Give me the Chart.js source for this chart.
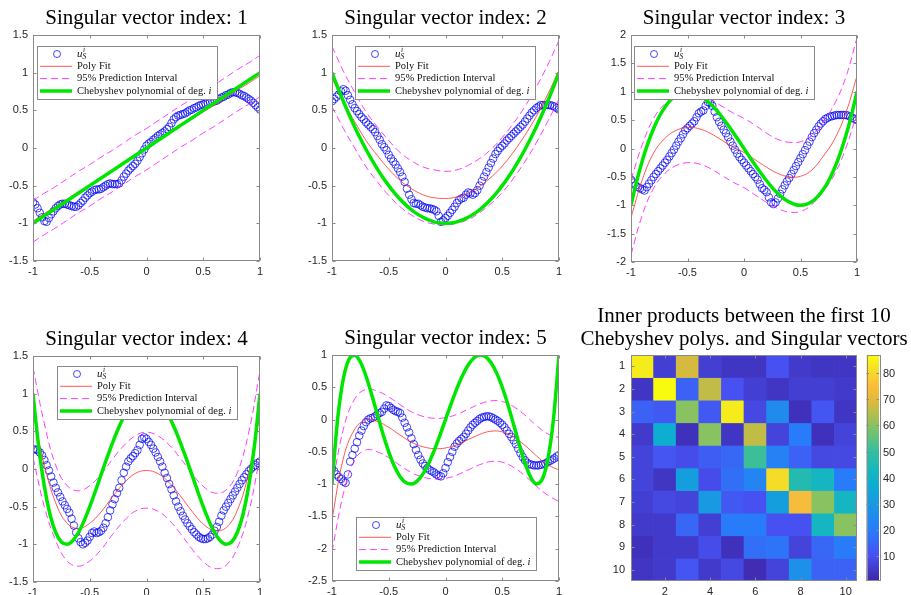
<!DOCTYPE html>
<html>
<head>
<meta charset="utf-8">
<script src="https://cdn.jsdelivr.net/npm/chart.js@4.4.0/dist/chart.umd.min.js"></script>
<style>
  body { margin: 0; background: #fff; width: 911px; height: 595px; overflow: hidden; position: relative; }
  .cell { position: absolute; }
</style>
</head>
<body>
<div class="cell" style="left:0px;top:0px;width:272px;height:287px"><canvas id="c1"></canvas></div>
<div class="cell" style="left:292px;top:0px;width:279px;height:287px"><canvas id="c2"></canvas></div>
<div class="cell" style="left:591px;top:0px;width:280px;height:289px"><canvas id="c3"></canvas></div>
<div class="cell" style="left:0px;top:321px;width:272px;height:274px"><canvas id="c4"></canvas></div>
<div class="cell" style="left:292px;top:320px;width:279px;height:275px"><canvas id="c5"></canvas></div>
<div class="cell" style="left:571px;top:297px;width:340px;height:298px"><canvas id="c6"></canvas></div>
<script>
// x positions
var xBlue = [-1,-0.98,-0.96,-0.94,-0.92,-0.9,-0.88,-0.86,-0.84,-0.82,-0.8,-0.78,-0.76,-0.74,-0.72,-0.7,-0.68,-0.66,-0.64,-0.62,
             -0.6,-0.58,-0.56,-0.54,-0.52,-0.5,-0.48,-0.46,-0.44,-0.42,-0.4,-0.38,-0.36,-0.34,-0.32,-0.3,-0.28,-0.26,-0.24,-0.22,
             -0.2,-0.18,-0.16,-0.14,-0.12,-0.1,-0.08,-0.06,-0.04,-0.02,0,
             0.02,0.04,0.06,0.08,0.1,0.12,0.14,0.16,0.18,0.2,0.22,0.24,0.26,0.28,0.3,0.32,0.34,0.36,0.38,0.4,
             0.42,0.44,0.46,0.48,0.5,0.52,0.54,0.56,0.58,0.6,0.62,0.64,0.66,0.68,0.7,0.72,0.74,0.76,0.78,0.8,
             0.82,0.84,0.86,0.88,0.9,0.92,0.94,0.96,0.98,1];
var xFit = [-1,-0.9,-0.8,-0.7,-0.6,-0.5,-0.4,-0.3,-0.2,-0.1,0,0.1,0.2,0.3,0.4,0.5,0.6,0.7,0.8,0.9,1];
var xCheb = [-1,-0.95,-0.9,-0.85,-0.8,-0.75,-0.7,-0.65,-0.6,-0.55,-0.5,-0.45,-0.4,-0.35,-0.3,-0.25,-0.2,-0.15,-0.1,-0.05,0,
             0.05,0.1,0.15,0.2,0.25,0.3,0.35,0.4,0.45,0.5,0.55,0.6,0.65,0.7,0.75,0.8,0.85,0.9,0.95,1];

var titles = ["Singular vector index: 1", "Singular vector index: 2", "Singular vector index: 3",
              "Singular vector index: 4", "Singular vector index: 5"];
var heatTitle = ["Inner products between the first 10", "Chebyshev polys. and Singular vectors"];
var legendLabels = ["Poly Fit", "95% Prediction Interval", "Chebyshev polynomial of deg. "];

// singular vectors (blue circles)
var blue1 = [-0.72,-0.75,-0.80,-0.86,-0.92,-0.97,-0.98,-0.93,-0.88,-0.84,-0.80,-0.77,-0.75,-0.74,-0.74,-0.75,-0.76,-0.77,-0.78,-0.78,
             -0.76,-0.73,-0.70,-0.66,-0.63,-0.60,-0.58,-0.56,-0.55,-0.55,-0.54,-0.52,-0.50,-0.48,-0.47,-0.48,-0.48,-0.48,-0.47,-0.43,
             -0.38,-0.34,-0.30,-0.27,-0.24,-0.21,-0.17,-0.12,-0.07,-0.02,0.03,
             0.06,0.08,0.11,0.13,0.16,0.18,0.20,0.22,0.25,0.28,0.33,0.38,0.41,0.43,0.44,0.45,0.46,0.48,0.50,0.51,
             0.53,0.54,0.56,0.57,0.58,0.59,0.60,0.61,0.61,0.62,0.63,0.65,0.67,0.68,0.70,0.71,0.73,0.74,0.74,0.73,
             0.72,0.70,0.69,0.67,0.65,0.63,0.60,0.57,0.54,0.51];
var blue2 = [0.62,0.65,0.68,0.71,0.75,0.78,0.76,0.70,0.64,0.58,0.53,0.49,0.45,0.41,0.38,0.34,0.31,0.28,0.25,0.21,
             0.16,0.11,0.05,0.01,-0.03,-0.09,-0.14,-0.18,-0.22,-0.27,-0.32,-0.38,-0.45,-0.54,-0.62,-0.68,-0.73,-0.74,-0.74,-0.76,
             -0.78,-0.79,-0.80,-0.80,-0.81,-0.82,-0.84,-0.90,-0.98,-0.96,-0.93,
             -0.90,-0.86,-0.82,-0.78,-0.73,-0.69,-0.67,-0.66,-0.62,-0.59,-0.60,-0.62,-0.60,-0.56,-0.50,-0.44,-0.38,-0.32,-0.26,-0.20,
             -0.14,-0.08,-0.04,0.0,0.03,0.06,0.10,0.13,0.16,0.19,0.22,0.25,0.28,0.31,0.35,0.39,0.43,0.47,0.50,0.53,
             0.55,0.57,0.57,0.57,0.57,0.57,0.56,0.55,0.53,0.51];
var blue3 = [-0.55,-0.60,-0.65,-0.68,-0.70,-0.72,-0.74,-0.68,-0.62,-0.56,-0.50,-0.45,-0.40,-0.35,-0.30,-0.25,-0.20,-0.14,-0.08,-0.02,
             0.05,0.12,0.18,0.25,0.32,0.36,0.40,0.44,0.48,0.55,0.62,0.65,0.67,0.75,0.82,0.80,0.75,0.65,0.55,0.47,
             0.40,0.33,0.27,0.20,0.12,0.05,-0.02,-0.09,-0.15,-0.20,-0.25,
             -0.30,-0.35,-0.40,-0.45,-0.50,-0.55,-0.63,-0.70,-0.73,-0.77,-0.86,-0.95,-0.98,-0.95,-0.88,-0.80,-0.72,-0.65,-0.58,-0.52,
             -0.45,-0.38,-0.31,-0.24,-0.17,-0.10,-0.03,0.05,0.12,0.20,0.27,0.33,0.39,0.44,0.48,0.52,0.54,0.56,0.57,0.58,
             0.59,0.59,0.59,0.59,0.59,0.58,0.56,0.54,0.52,0.50];
var blue4 = [0.26,0.26,0.25,0.22,0.18,0.12,0.05,-0.02,-0.10,-0.18,-0.25,-0.31,-0.37,-0.43,-0.48,-0.53,-0.58,-0.66,-0.75,-0.84,
             -0.92,-0.97,-1.0,-0.98,-0.95,-0.90,-0.85,-0.83,-0.85,-0.84,-0.82,-0.78,-0.72,-0.64,-0.55,-0.47,-0.40,-0.32,-0.25,-0.15,
             -0.05,0.03,0.10,0.14,0.17,0.21,0.25,0.32,0.40,0.42,0.40,
             0.36,0.32,0.27,0.22,0.16,0.10,0.03,-0.05,-0.12,-0.20,-0.27,-0.35,-0.43,-0.50,-0.56,-0.62,-0.67,-0.72,-0.76,-0.80,
             -0.84,-0.87,-0.90,-0.92,-0.93,-0.93,-0.92,-0.90,-0.87,-0.82,-0.77,-0.70,-0.62,-0.55,-0.50,-0.45,-0.40,-0.35,-0.30,-0.25,
             -0.20,-0.15,-0.11,-0.07,-0.03,0.0,0.03,0.05,0.08,0.10];
var blue5 = [-0.75,-0.80,-0.85,-0.89,-0.92,-0.96,-0.98,-0.85,-0.65,-0.55,-0.45,-0.35,-0.25,-0.17,-0.10,-0.04,0.0,0.02,0.03,0.05,
             0.08,0.10,0.12,0.17,0.22,0.21,0.18,0.15,0.13,0.12,0.10,0.03,-0.05,-0.12,-0.20,-0.29,-0.38,-0.47,-0.55,-0.62,
             -0.68,-0.72,-0.75,-0.78,-0.80,-0.82,-0.85,-0.87,-0.88,-0.83,-0.75,
             -0.66,-0.58,-0.50,-0.42,-0.37,-0.33,-0.30,-0.27,-0.22,-0.17,-0.12,-0.08,-0.05,-0.02,0.01,0.03,0.04,0.05,0.05,0.04,
             0.02,0.0,-0.02,-0.05,-0.08,-0.12,-0.17,-0.22,-0.27,-0.32,-0.38,-0.45,-0.52,-0.58,-0.63,-0.67,-0.69,-0.70,-0.71,-0.71,
             -0.71,-0.70,-0.69,-0.68,-0.66,-0.64,-0.62,-0.60,-0.57,-0.55];

// poly fits and prediction intervals
var red1 = [-0.97,-0.87,-0.78,-0.68,-0.58,-0.49,-0.39,-0.30,-0.20,-0.10,-0.01,0.09,0.19,0.29,0.38,0.48,0.57,0.67,0.77,0.86,0.96];
var up1  = [-0.70,-0.60,-0.51,-0.41,-0.31,-0.22,-0.12,-0.03,0.07,0.17,0.26,0.36,0.46,0.56,0.65,0.75,0.84,0.94,1.04,1.13,1.23];
var lo1  = [-1.25,-1.15,-1.06,-0.96,-0.86,-0.77,-0.67,-0.58,-0.48,-0.38,-0.29,-0.19,-0.09,0.01,0.10,0.20,0.29,0.39,0.49,0.58,0.68];
var red2 = [0.93,0.62,0.35,0.10,-0.10,-0.28,-0.43,-0.54,-0.62,-0.66,-0.67,-0.65,-0.60,-0.51,-0.39,-0.24,-0.05,0.17,0.42,0.71,1.03];
var up2  = [1.35,1.02,0.74,0.48,0.28,0.10,-0.06,-0.17,-0.25,-0.29,-0.31,-0.29,-0.23,-0.14,-0.02,0.14,0.33,0.55,0.81,1.10,1.43];
var lo2  = [0.55,0.26,0.0,-0.25,-0.45,-0.63,-0.78,-0.89,-0.97,-1.01,-1.02,-1.00,-0.95,-0.86,-0.74,-0.59,-0.40,-0.18,0.07,0.35,0.65];
var red3 = [-1.22,-0.55,-0.08,0.18,0.32,0.37,0.35,0.27,0.15,0.03,-0.07,-0.20,-0.33,-0.44,-0.50,-0.49,-0.38,-0.14,0.16,0.62,1.28];
var up3  = [-0.55,0.07,0.53,0.79,0.93,0.97,0.95,0.87,0.75,0.63,0.53,0.41,0.27,0.16,0.11,0.12,0.23,0.47,0.78,1.25,1.95];
var lo3  = [-1.87,-1.17,-0.70,-0.44,-0.30,-0.25,-0.27,-0.35,-0.47,-0.59,-0.69,-0.82,-0.95,-1.06,-1.12,-1.11,-0.99,-0.76,-0.46,0.0,0.63];
var red4 = [0.75,0.05,-0.45,-0.72,-0.79,-0.72,-0.57,-0.37,-0.19,-0.06,-0.02,-0.06,-0.18,-0.36,-0.56,-0.73,-0.82,-0.78,-0.55,-0.05,0.72];
var up4  = [1.35,0.60,0.05,-0.22,-0.29,-0.22,-0.07,0.13,0.31,0.44,0.49,0.44,0.32,0.14,-0.06,-0.23,-0.32,-0.28,-0.05,0.48,1.30];
var lo4  = [0.15,-0.50,-0.95,-1.22,-1.29,-1.22,-1.07,-0.87,-0.69,-0.56,-0.52,-0.56,-0.68,-0.86,-1.06,-1.23,-1.32,-1.28,-1.05,-0.58,0.17];
var red5 = [-1.55,-0.60,-0.15,0.0,-0.03,-0.12,-0.24,-0.35,-0.42,-0.45,-0.44,-0.39,-0.31,-0.23,-0.18,-0.19,-0.27,-0.40,-0.56,-0.70,-0.78];
var up5  = [-1.05,-0.15,0.32,0.47,0.44,0.35,0.23,0.12,0.05,0.02,0.03,0.08,0.16,0.24,0.29,0.28,0.20,0.07,-0.09,-0.22,-0.28];
var lo5  = [-2.05,-1.15,-0.62,-0.47,-0.50,-0.59,-0.71,-0.82,-0.89,-0.92,-0.91,-0.86,-0.78,-0.70,-0.65,-0.66,-0.74,-0.87,-1.03,-1.17,-1.27];

// chebyshev polynomials read on the xCheb grid
var cheb1 = [-1,-0.95,-0.9,-0.85,-0.8,-0.75,-0.7,-0.65,-0.6,-0.55,-0.5,-0.45,-0.4,-0.35,-0.3,-0.25,-0.2,-0.15,-0.1,-0.05,0,
             0.05,0.1,0.15,0.2,0.25,0.3,0.35,0.4,0.45,0.5,0.55,0.6,0.65,0.7,0.75,0.8,0.85,0.9,0.95,1];
var cheb2 = [1,0.805,0.62,0.445,0.28,0.125,-0.02,-0.155,-0.28,-0.395,-0.5,-0.595,-0.68,-0.755,-0.82,-0.875,-0.92,-0.955,-0.98,-0.995,-1,
             -0.995,-0.98,-0.955,-0.92,-0.875,-0.82,-0.755,-0.68,-0.595,-0.5,-0.395,-0.28,-0.155,-0.02,0.125,0.28,0.445,0.62,0.805,1];
var cheb3 = [-1,-0.58,-0.216,0.094,0.352,0.563,0.728,0.852,0.936,0.985,1,0.986,0.944,0.879,0.792,0.688,0.568,0.437,0.296,0.15,0,
             -0.15,-0.296,-0.437,-0.568,-0.688,-0.792,-0.879,-0.944,-0.986,-1,-0.985,-0.936,-0.852,-0.728,-0.563,-0.352,-0.094,0.216,0.58,1];
var cheb4 = [1,0.296,-0.231,-0.604,-0.843,-0.969,-0.999,-0.952,-0.843,-0.688,-0.5,-0.292,-0.075,0.14,0.345,0.531,0.693,0.824,0.921,0.98,1,
             0.98,0.921,0.824,0.693,0.531,0.345,0.14,-0.075,-0.292,-0.5,-0.688,-0.843,-0.952,-0.999,-0.969,-0.843,-0.604,-0.231,0.296,1];
var cheb5 = [-1,0.017,0.632,0.933,0.997,0.891,0.671,0.386,0.076,-0.228,-0.5,-0.723,-0.884,-0.977,-0.999,-0.953,-0.845,-0.684,-0.48,-0.248,0,
             0.248,0.48,0.684,0.845,0.953,0.999,0.977,0.884,0.723,0.5,0.228,-0.076,-0.386,-0.671,-0.891,-0.997,-0.933,-0.632,-0.017,1];

// inner products heatmap (rows = Chebyshev poly, cols = singular vector)
var heatRows = [1,2,3,4,5,6,7,8,9,10];
var heatCols = [1,2,3,4,5,6,7,8,9,10];
var heatXTicks = [2,4,6,8,10];
var innerProducts = [
  [84, 6, 68, 6, 4, 4, 10, 5, 4, 4],
  [4, 87, 14, 66, 10, 6, 4, 6, 6, 5],
  [14, 12, 60, 12, 84, 8, 25, 3, 11, 4],
  [5, 38, 3, 60, 4, 66, 7, 20, 3, 7],
  [7, 11, 9, 13, 15, 51, 22, 14, 8, 8],
  [7, 4, 32, 9, 17, 23, 81, 46, 42, 20],
  [6, 8, 7, 30, 12, 10, 32, 74, 60, 42],
  [5, 5, 15, 6, 20, 20, 10, 10, 42, 60],
  [3, 5, 5, 9, 3, 17, 18, 7, 15, 20],
  [4, 5, 11, 5, 8, 2, 7, 27, 14, 14]
];
var cbTicks = [10,20,30,40,50,60,70,80];
var cMin = 0.4, cMax = 87;

// parula-like colormap stops
var parulaStops = [
  [0.00, 62, 38, 168], [0.11, 71, 80, 240], [0.22, 42, 122, 250], [0.33, 25, 150, 228],
  [0.45, 12, 178, 205], [0.57, 50, 190, 160], [0.68, 130, 195, 100], [0.79, 220, 185, 60],
  [0.87, 253, 190, 58], [0.93, 245, 220, 40], [1.00, 249, 251, 14]
];

var axisC = "#8a8a8a";
var tickC = "#262626";
var blueC = "rgba(0,0,240,0.8)";
var redC = "#ff2f2f";
var magC = "rgba(255,0,255,0.85)";
var greenC = "#00e600";

Chart.defaults.font.family = "Liberation Sans";
Chart.defaults.animation = false;

function parula(v) {
  var t = Math.max(0, Math.min(1, (v - cMin) / (cMax - cMin)));
  for (var i = 1; i < parulaStops.length; i++) {
    var a = parulaStops[i - 1], b = parulaStops[i];
    if (t <= b[0]) {
      var f = (t - a[0]) / (b[0] - a[0]);
      return "rgb(" + Math.round(a[1] + f * (b[1] - a[1])) + "," + Math.round(a[2] + f * (b[2] - a[2])) + "," + Math.round(a[3] + f * (b[3] - a[3])) + ")";
    }
  }
  return "rgb(249,251,14)";
}

function pts(xs, ys) {
  return ys.map(function (y, i) { return { x: xs[i], y: y }; });
}

function fmtTick(v) { return String(Math.round(v * 10) / 10); }

function drawLegend(ctx, x, y) {
  var w = 180, h = 53;
  ctx.fillStyle = "#fff";
  ctx.fillRect(x, y, w, h);
  ctx.strokeStyle = axisC;
  ctx.lineWidth = 1;
  ctx.strokeRect(Math.round(x) + 0.5, Math.round(y) + 0.5, w, h);
  var rows = [y + 8, y + 20.3, y + 32.6, y + 45];
  var tx = x + 40;
  ctx.beginPath();
  ctx.arc(x + 20, rows[0], 3.5, 0, Math.PI * 2);
  ctx.strokeStyle = blueC;
  ctx.lineWidth = 0.9;
  ctx.stroke();
  ctx.beginPath(); ctx.moveTo(x + 3, rows[1]); ctx.lineTo(x + 35, rows[1]);
  ctx.strokeStyle = redC; ctx.lineWidth = 0.8; ctx.stroke();
  ctx.save();
  ctx.beginPath(); ctx.setLineDash([7, 4]); ctx.moveTo(x + 3, rows[2]); ctx.lineTo(x + 35, rows[2]);
  ctx.strokeStyle = magC; ctx.lineWidth = 0.9; ctx.stroke();
  ctx.restore();
  ctx.beginPath(); ctx.moveTo(x + 3, rows[3]); ctx.lineTo(x + 35, rows[3]);
  ctx.strokeStyle = greenC; ctx.lineWidth = 3.5; ctx.stroke();

  ctx.fillStyle = "#111";
  ctx.textBaseline = "middle";
  ctx.textAlign = "left";
  ctx.font = 'italic 11px "Liberation Serif"';
  ctx.fillText("u", tx, rows[0]);
  var uw = ctx.measureText("u").width;
  ctx.font = 'italic 7.5px "Liberation Serif"';
  ctx.fillText("i", tx + uw + 0.5, rows[0] - 4);
  ctx.fillText("S", tx + uw, rows[0] + 3);
  ctx.font = '10.5px "Liberation Serif"';
  ctx.fillText(legendLabels[0], tx, rows[1]);
  ctx.fillText(legendLabels[1], tx, rows[2]);
  ctx.fillText(legendLabels[2], tx, rows[3]);
  var cw = ctx.measureText(legendLabels[2]).width;
  ctx.font = 'italic 10.5px "Liberation Serif"';
  ctx.fillText("i", tx + cw, rows[3]);
}

function drawColorbar(ctx, a) {
  var x0 = a.right + 9.5, w = 12.5, top = a.top, bot = a.bottom;
  var g = ctx.createLinearGradient(0, bot, 0, top);
  parulaStops.forEach(function (s) { g.addColorStop(s[0], "rgb(" + s[1] + "," + s[2] + "," + s[3] + ")"); });
  ctx.fillStyle = g;
  ctx.fillRect(x0, top, w, bot - top);
  ctx.strokeStyle = axisC;
  ctx.lineWidth = 1;
  ctx.strokeRect(Math.round(x0) + 0.5, Math.round(top) + 0.5, Math.round(w), Math.round(bot - top) - 1);
  ctx.font = '11px "Liberation Sans"';
  ctx.fillStyle = tickC;
  ctx.textBaseline = "middle";
  ctx.textAlign = "left";
  cbTicks.forEach(function (v) {
    var py = Math.round(bot - (v - cMin) / (cMax - cMin) * (bot - top)) + 0.5;
    ctx.beginPath();
    ctx.moveTo(x0 + w, py); ctx.lineTo(x0 + w - 2.5, py);
    ctx.moveTo(x0, py); ctx.lineTo(x0 + 2.5, py);
    ctx.stroke();
    ctx.fillText(String(v), x0 + w + 4, py);
  });
}

function drawTitleLines(ctx, a, lines) {
  ctx.fillStyle = "#000";
  ctx.font = '21px "Liberation Serif"';
  ctx.textAlign = "center";
  ctx.textBaseline = "alphabetic";
  var cx = (a.left + a.right) / 2;
  lines.forEach(function (s, i) {
    ctx.fillText(s, cx, a.top - 33.3 + i * 23.3);
  });
}

var matBox = {
  id: "matBox",
  afterDraw: function (chart, args, opts) {
    var ctx = chart.ctx, a = chart.chartArea;
    ctx.save();
    ctx.strokeStyle = axisC;
    ctx.lineWidth = 1;
    var L = Math.round(a.left) + 0.5, R = Math.round(a.right) - 0.5, T = Math.round(a.top) + 0.5, B = Math.round(a.bottom) - 0.5;
    ctx.strokeRect(L, T, R - L, B - T);
    ctx.beginPath();
    var xs = chart.scales.x, ys = chart.scales.y;
    xs.ticks.forEach(function (t, i) {
      if (t.label === "") return;
      var px = Math.round(xs.getPixelForTick(i)) + 0.5;
      ctx.moveTo(px, B); ctx.lineTo(px, B - 3);
      ctx.moveTo(px, T); ctx.lineTo(px, T + 3);
    });
    ys.ticks.forEach(function (t, i) {
      var py = Math.round(ys.getPixelForTick(i)) + 0.5;
      ctx.moveTo(L, py); ctx.lineTo(L + 3, py);
      ctx.moveTo(R, py); ctx.lineTo(R - 3, py);
    });
    ctx.stroke();
    if (opts.legend) drawLegend(ctx, a.left + opts.legend[0], a.top + opts.legend[1]);
    if (opts.colorbar) drawColorbar(ctx, a);
    if (opts.titleLines) drawTitleLines(ctx, a, opts.titleLines);
    ctx.restore();
  }
};

function tickFont() { return { family: "Liberation Sans", size: 11 }; }

var plots = [
  { id: "c1", title: titles[0], blue: blue1, red: red1, up: up1, lo: lo1, cheb: cheb1, yMin: -1.5, yMax: 1.5, yW: 33, xH: 26, padR: 12, leg: [4, 11] },
  { id: "c2", title: titles[1], blue: blue2, red: red2, up: up2, lo: lo2, cheb: cheb2, yMin: -1.5, yMax: 1.5, yW: 40, xH: 26, padR: 12, leg: [23, 11] },
  { id: "c3", title: titles[2], blue: blue3, red: red3, up: up3, lo: lo3, cheb: cheb3, yMin: -2, yMax: 2, yW: 40, xH: 27, padR: 14, leg: [3, 11] },
  { id: "c4", title: titles[3], blue: blue4, red: red4, up: up4, lo: lo4, cheb: cheb4, yMin: -1.5, yMax: 1.5, yW: 33, xH: 13, padR: 12, leg: [24, 10] },
  { id: "c5", title: titles[4], blue: blue5, red: red5, up: up5, lo: lo5, cheb: cheb5, yMin: -2.5, yMax: 1, yW: 40, xH: 14, padR: 12, leg: [24, 162] }
];

plots.forEach(function (d) {
  new Chart(document.getElementById(d.id), {
    type: "scatter",
    data: {
      datasets: [
        { label: "u", data: pts(xBlue, d.blue), showLine: false, pointRadius: 3.8, pointBorderWidth: 0.9,
          pointBorderColor: blueC, pointBackgroundColor: "rgba(0,0,0,0)", order: 3 },
        { label: legendLabels[0], data: pts(xFit, d.red), showLine: true, borderColor: redC, borderWidth: 0.8,
          pointRadius: 0, tension: 0.4, order: 2 },
        { label: legendLabels[1], data: pts(xFit, d.up), showLine: true, borderColor: magC, borderWidth: 0.9,
          borderDash: [7, 4], pointRadius: 0, tension: 0.4, order: 1 },
        { label: "lower", data: pts(xFit, d.lo), showLine: true, borderColor: magC, borderWidth: 0.9,
          borderDash: [7, 4], pointRadius: 0, tension: 0.4, order: 1 },
        { label: legendLabels[2], data: pts(xCheb, d.cheb), showLine: true, borderColor: greenC, borderWidth: 3.5,
          pointRadius: 0, cubicInterpolationMode: "monotone", order: 0 }
      ]
    },
    options: {
      responsive: true, maintainAspectRatio: false, animation: false, events: [],
      layout: { padding: { left: 0, right: d.padR, top: 0, bottom: 0 } },
      scales: {
        x: { type: "linear", min: -1, max: 1,
             ticks: { stepSize: 0.5, color: tickC, font: tickFont(), padding: 4, maxRotation: 0, callback: fmtTick },
             grid: { display: false, drawTicks: false }, border: { display: false },
             afterFit: function (s) { s.height = d.xH; } },
        y: { type: "linear", min: d.yMin, max: d.yMax,
             ticks: { stepSize: 0.5, color: tickC, font: tickFont(), padding: 5, callback: fmtTick },
             grid: { display: false, drawTicks: false }, border: { display: false },
             afterFit: function (s) { s.width = d.yW; } }
      },
      plugins: {
        legend: { display: false },
        tooltip: { enabled: false },
        title: {
          display: true, text: d.title, fullSize: false, color: "#000",
          font: { family: "Liberation Serif", size: 21, weight: "normal", lineHeight: 1.2 },
          padding: { top: 6, bottom: 3.8 }
        },
        matBox: { legend: d.leg }
      }
    },
    plugins: [matBox]
  });
});

// heatmap of inner products
new Chart(document.getElementById("c6"), {
  type: "bar",
  data: {
    labels: heatCols.map(String),
    datasets: innerProducts.map(function (row, r) {
      return {
        data: row.map(function () { return [heatRows[r] - 0.5, heatRows[r] + 0.5]; }),
        backgroundColor: row.map(parula),
        borderWidth: 0, grouped: false, barPercentage: 1, categoryPercentage: 1
      };
    })
  },
  options: {
    responsive: true, maintainAspectRatio: false, animation: false, events: [],
    layout: { padding: { left: 0, right: 54, top: 58, bottom: 0 } },
    scales: {
      x: { ticks: { color: tickC, font: tickFont(), padding: 4, maxRotation: 0, autoSkip: false,
                    callback: function (v, i) { return heatXTicks.indexOf(heatCols[i]) >= 0 ? String(heatCols[i]) : ""; } },
           grid: { display: false, drawTicks: false }, border: { display: false },
           afterFit: function (s) { s.height = 14; } },
      y: { type: "linear", min: 0.5, max: 10.5, reverse: true,
           ticks: { color: tickC, font: tickFont(), padding: 6 },
           afterBuildTicks: function (s) { s.ticks = heatRows.map(function (v) { return { value: v }; }); },
           grid: { display: false, drawTicks: false }, border: { display: false },
           afterFit: function (s) { s.width = 60; } }
    },
    plugins: {
      legend: { display: false },
      tooltip: { enabled: false },
      title: { display: false },
      matBox: { colorbar: true, titleLines: heatTitle }
    }
  },
  plugins: [matBox]
});
</script>
</body>
</html>
